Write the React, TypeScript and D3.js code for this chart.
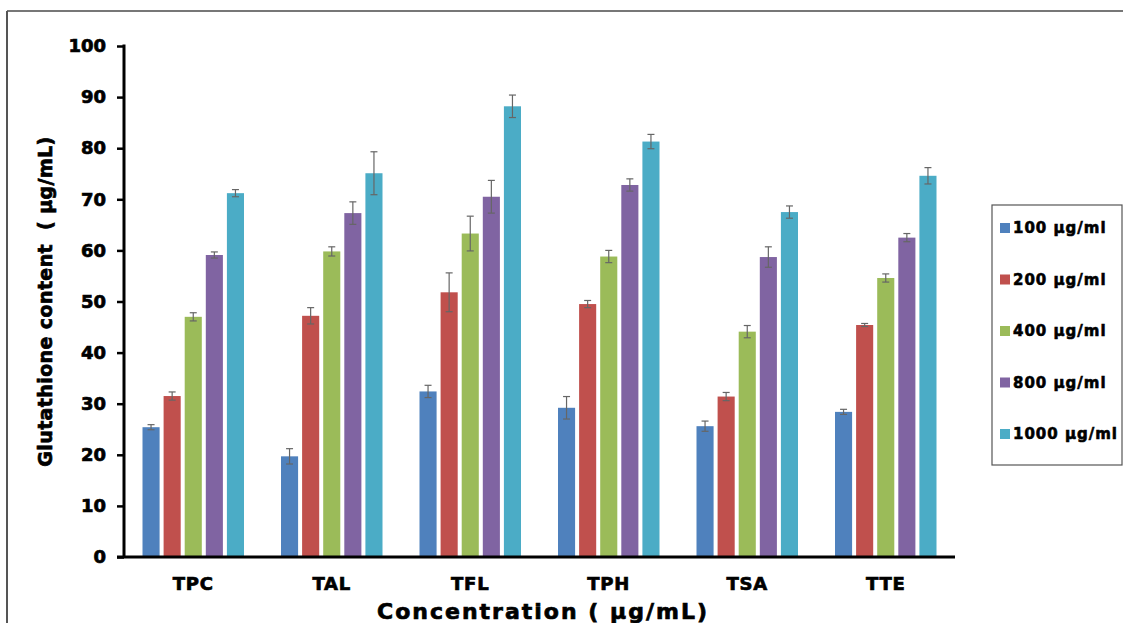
import React from 'react';
import { scaleBand, scaleLinear, select, axisLeft } from 'd3';

const categories = ['TPC', 'TAL', 'TFL', 'TPH', 'TSA', 'TTE'];
const seriesNames = ['100 µg/ml', '200 µg/ml', '400 µg/ml', '800 µg/ml', '1000 µg/ml'];
const colors = ['#4f81bd', '#c0504d', '#9bbb59', '#8064a2', '#4bacc6'];

// one row per category, one value per concentration
const means = [
  [25.4, 31.5, 47.0, 59.1, 71.2],
  [19.7, 47.2, 59.8, 67.3, 75.1],
  [32.4, 51.8, 63.3, 70.5, 88.2],
  [29.2, 49.5, 58.8, 72.8, 81.3],
  [25.6, 31.4, 44.1, 58.7, 67.5],
  [28.4, 45.4, 54.6, 62.5, 74.6],
];
const errors = [
  [0.5, 0.8, 0.8, 0.6, 0.7],
  [1.5, 1.6, 0.9, 2.2, 4.2],
  [1.2, 3.8, 3.4, 3.2, 2.2],
  [2.2, 0.7, 1.2, 1.2, 1.4],
  [1.0, 0.8, 1.2, 2.0, 1.2],
  [0.5, 0.3, 0.8, 0.8, 1.6],
];
const yTicks = [0, 10, 20, 30, 40, 50, 60, 70, 80, 90, 100];

const W = 1123;
const H = 623;
const left = 124;
const right = 955;
const top = 46;
const bottom = 557;
const font = 'DejaVu Sans, sans-serif';
// heavy text, close to the Arial Black of the original
const heavy = { fontFamily: font, fontWeight: 'bold' as const, stroke: '#000', strokeWidth: 0.7 };

export default function App() {
  const yAxisRef = React.useRef<SVGGElement>(null);

  const x = scaleBand<string>().domain(categories).range([left, right]).paddingOuter(0).paddingInner(0);
  const inner = scaleBand<number>()
    .domain(seriesNames.map((_, i) => i))
    .range([18.5, x.bandwidth() - 18.5])
    .paddingInner(0.19);
  const y = scaleLinear().domain([0, 100]).range([bottom, top]);

  React.useEffect(() => {
    const g = select(yAxisRef.current);
    g.call(axisLeft(y).tickValues(yTicks).tickSize(7).tickPadding(11) as any);
    g.select('.domain').remove();
    g.selectAll('.tick line').attr('stroke', '#000').attr('stroke-width', 2.5);
    g.selectAll('.tick text')
      .attr('fill', '#000')
      .attr('stroke', '#000')
      .attr('stroke-width', 0.7)
      .style('font-family', font)
      .style('font-weight', 'bold')
      .style('font-size', '18px');
  }, []);

  return (
    <svg width={W} height={H} style={{ position: 'absolute', left: 0, top: 0, background: '#fff' }}>
      {/* outer frame */}
      <line x1={7} x2={W} y1={11} y2={11} stroke="#777" strokeWidth={2} />
      <line x1={7} x2={7} y1={11} y2={H} stroke="#555" strokeWidth={2} />

      {categories.map((c, ci) => (
        <g key={c} transform={`translate(${x(c)},0)`}>
          {means[ci].map((v, si) => {
            const bx = inner(si)!;
            const bw = inner.bandwidth();
            const cx = bx + bw / 2;
            const e = errors[ci][si];
            return (
              <g key={si}>
                <rect x={bx} y={y(v)} width={bw} height={bottom - y(v)} fill={colors[si]} />
                <line x1={cx} x2={cx} y1={y(v + e)} y2={y(v - e)} stroke="#666" strokeWidth={1.2} />
                <line x1={cx - 3.5} x2={cx + 3.5} y1={y(v + e)} y2={y(v + e)} stroke="#666" strokeWidth={1.2} />
                <line x1={cx - 3.5} x2={cx + 3.5} y1={y(v - e)} y2={y(v - e)} stroke="#666" strokeWidth={1.2} />
              </g>
            );
          })}
          <text x={x.bandwidth() / 2} y={590} textAnchor="middle" fontSize={18} letterSpacing={0.8} {...heavy}>
            {c}
          </text>
        </g>
      ))}

      <g ref={yAxisRef} transform={`translate(${left},0)`} />
      <line x1={left} x2={left} y1={top - 1.5} y2={bottom} stroke="#000" strokeWidth={3} />
      <line x1={left - 7} x2={right} y1={bottom} y2={bottom} stroke="#000" strokeWidth={3} />

      <text
        transform={`translate(52,${(top + bottom) / 2}) rotate(-90)`}
        textAnchor="middle"
        fontSize={19}
        letterSpacing={0.4}
        xmlSpace="preserve"
        {...heavy}
      >
        {'Glutathione content  ( µg/mL)'}
      </text>
      <text x={543} y={619} textAnchor="middle" fontSize={22} letterSpacing={2} {...heavy}>
        Concentration ( µg/mL)
      </text>

      {/* legend */}
      <g transform="translate(992,205)">
        <rect x={0} y={0} width={130} height={260} fill="#fff" stroke="#555" strokeWidth={1.2} />
        {seriesNames.map((s, i) => (
          <g key={s} transform={`translate(8,${23 + i * 51.5})`}>
            <rect x={0} y={-5} width={10} height={10} fill={colors[i]} />
            <text x={13} y={0} dy="0.36em" fontSize={15} letterSpacing={1} {...heavy} strokeWidth={0.6}>
              {s}
            </text>
          </g>
        ))}
      </g>
    </svg>
  );
}
